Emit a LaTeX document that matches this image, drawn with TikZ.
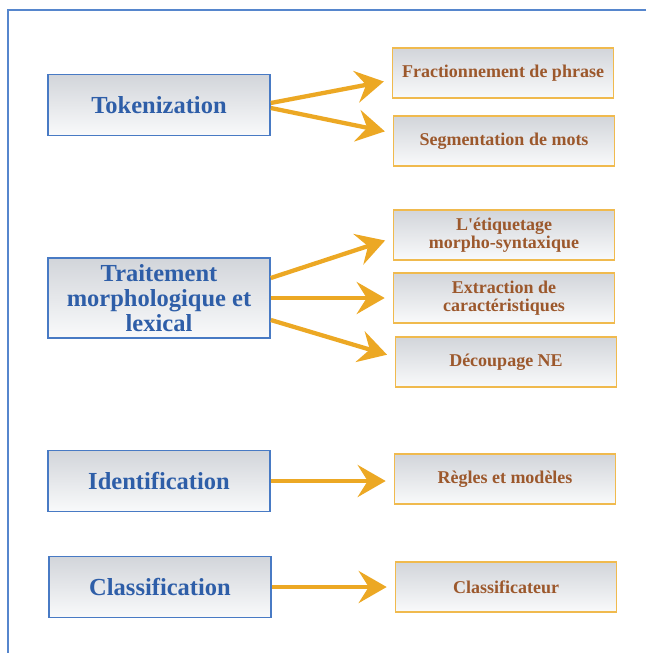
\documentclass[tikz,border=0pt]{standalone}
\usepackage{fontspec}
\setmainfont{Liberation Serif}
\usepackage{tikz}
\usetikzlibrary{arrows.meta}

\definecolor{frameblue}{RGB}{86,134,205}
\definecolor{mainblue}{RGB}{72,122,196}
\definecolor{maintext}{RGB}{46,94,168}
\definecolor{subedge}{RGB}{240,186,78}
\definecolor{subtext}{RGB}{156,88,44}
\definecolor{flowcol}{RGB}{236,168,36}
\definecolor{boxtop}{RGB}{210,213,218}
\definecolor{boxbottom}{RGB}{249,250,251}

\begin{document}
\begin{tikzpicture}[x=1pt, y=-1pt,
	mainbox/.style={draw=mainblue, line width=1.6pt, top color=boxtop, bottom color=boxbottom,
		minimum width=222pt, minimum height=61pt, align=center,
		font=\fontsize{24.5}{25}\selectfont\bfseries, text=maintext},
	subbox/.style={draw=subedge, line width=1.6pt, top color=boxtop, bottom color=boxbottom,
		minimum width=221pt, minimum height=50pt, align=center,
		font=\fontsize{18}{18}\selectfont\bfseries, text=subtext},
	flow/.style={draw=flowcol, line width=4.3pt,
		-{Stealth[length=28pt, width=32pt, inset=10pt]}, shorten >=8pt}]

	\useasboundingbox (0,0) rectangle (646,653);

	% frame
	\draw [frameblue, line width=1.8pt] (646,10) -- (8,10) -- (8,653);

	% left column
	\node [mainbox] (tok) at (159,105) {Tokenization};
	\node [mainbox, minimum height=80pt] (morph) at (159,298)
	{
		Traitement\\
		morphologique et\\
		lexical
	};
	\node [mainbox] (ident) at (159,481) {Identification};
	\node [mainbox] (classif) at (160,587) {Classification};

	% right column
	\node [subbox] (frac) at (503,73) {Fractionnement de phrase};
	\node [subbox] (segm) at (504,141) {Segmentation de mots};
	\node [subbox] (etiq) at (504,235)
	{
		L\textquotesingle étiquetage\\
		morpho-syntaxique
	};
	\node [subbox] (extr) at (504,298)
	{
		Extraction de\\
		caractéristiques
	};
	\node [subbox] (decoup) at (506,362) {Découpage NE};
	\node [subbox] (regles) at (505,479) {Règles et modèles};
	\node [subbox] (classeur) at (506,587) {Classificateur};

	% arrows
	\draw [flow] ([yshift=2pt]tok.east) -- ([yshift=-7pt]frac.west);
	\draw [flow] ([yshift=-3pt]tok.east) -- ([yshift=8pt]segm.west);
	\draw [flow] ([yshift=20pt]morph.east) -- ([yshift=-3pt]etiq.west);
	\draw [flow] (morph.east) -- (extr.west);
	\draw [flow] ([yshift=-22pt]morph.east) -- ([yshift=5pt]decoup.west);
	\draw [flow] (ident.east) -- (regles.west |- ident.east);
	\draw [flow] (classif.east) -- (classeur.west);

\end{tikzpicture}
\end{document}
